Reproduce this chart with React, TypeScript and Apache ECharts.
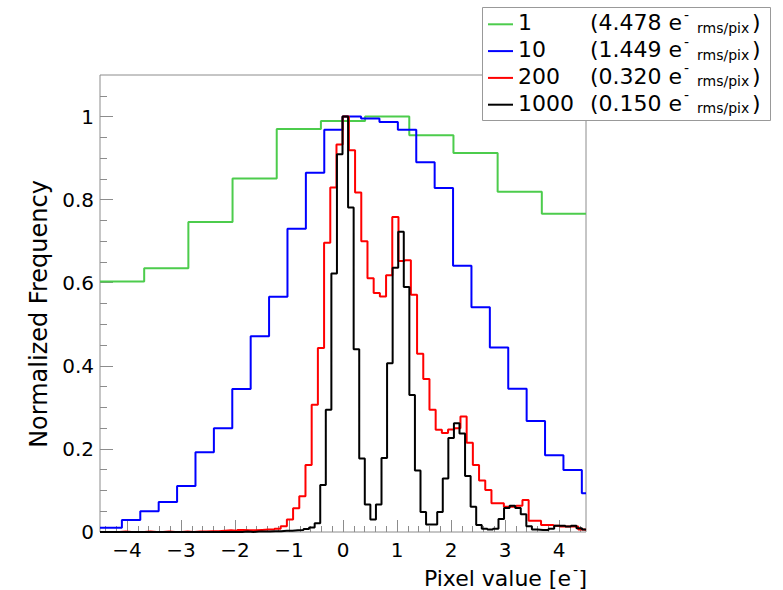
import React, { useEffect, useRef } from 'react';
import * as echarts from 'echarts';

// ---------- axis data ----------
const xRange = [-4.5, 4.5];
const yRange = [0, 1.1];
const xTickValues = [-4, -3, -2, -1, 0, 1, 2, 3, 4];
const yTickValues = [0, 0.2, 0.4, 0.6, 0.8, 1];
const xTitle = 'Pixel value [e';
const yTitle = 'Normalized Frequency';

// ---------- legend data ----------
const seriesSamples = ['1', '10', '200', '1000'];
const seriesNoise = ['4.478', '1.449', '0.320', '0.150'];
const seriesColors = ['#4ccc4c', '#0000ff', '#ff0000', '#000000'];

// ---------- histogram data ----------
// 1 sample
const greenFirstEdge = -4.5;
const greenBinWidth = 0.81818;
const greenValues = [0.603, 0.635, 0.746, 0.851, 0.97, 0.989, 1.0, 0.955, 0.912, 0.819, 0.766];

// 10 samples
const blueFirstEdge = -4.776;
const blueBinWidth = 0.3407;
const blueValues = [
  0.01, 0.01, 0.029, 0.05, 0.072, 0.111, 0.192, 0.25, 0.344, 0.471, 0.566, 0.73, 0.865, 0.968,
  1.0, 0.995, 0.987, 0.968, 0.89, 0.828, 0.641, 0.541, 0.444, 0.345, 0.267, 0.185, 0.149, 0.093,
];

// 200 samples
const redFirstEdge = -4.598;
const redBinWidth = 0.1148;
const redValues = [
  0, 0, 0, 0, 0.001, 0, 0, 0, 0.001, 0, 0, 0.001, 0, 0, 0.001, 0, 0.001, 0.001, 0.002, 0.002,
  0.003, 0.004, 0.003, 0.005, 0.004, 0.004, 0.005, 0.006, 0.006, 0.008,
  0.014, 0.03, 0.057, 0.086, 0.161, 0.306, 0.443, 0.696, 0.829, 0.933,
  1.0, 0.919, 0.817, 0.7, 0.611, 0.575, 0.567, 0.618, 0.758, 0.652,
  0.654, 0.571, 0.429, 0.368, 0.294, 0.246, 0.238, 0.247, 0.25, 0.278,
  0.215, 0.161, 0.124, 0.101, 0.069, 0.069, 0.061, 0.061, 0.063, 0.077,
  0.027, 0.027, 0.017, 0.017, 0.015, 0.013, 0.013, 0.013, 0.006, 0.005,
];

// 1000 samples
const blackFirstEdge = -4.5476;
const blackBinWidth = 0.10315;
const blackValues = [
  0, 0, 0, 0, 0, 0, 0, 0, 0, 0, 0, 0, 0, 0, 0, 0, 0, 0, 0, 0,
  0, 0, 0, 0, 0, 0, 0.001, 0, 0.001, 0.001, 0.001, 0.002,
  0.002, 0.003, 0.003, 0.004, 0.005, 0.007, 0.011, 0.021, 0.113, 0.294, 0.622, 0.909,
  1.0, 0.781, 0.44, 0.177, 0.066, 0.03, 0.066, 0.178, 0.406, 0.636,
  0.723, 0.59, 0.33, 0.148, 0.048, 0.018, 0.018, 0.048, 0.129, 0.226,
  0.262, 0.237, 0.135, 0.061, 0.017, 0.008, 0.006, 0.008, 0.031, 0.058,
  0.063, 0.058, 0.043, 0.014, 0.006, 0.005, 0.005, 0.008, 0.015, 0.015,
  0.013, 0.015, 0.009, 0.006,
];

const histograms = [
  { first: greenFirstEdge, width: greenBinWidth, values: greenValues },
  { first: blueFirstEdge, width: blueBinWidth, values: blueValues },
  { first: redFirstEdge, width: redBinWidth, values: redValues },
  { first: blackFirstEdge, width: blackBinWidth, values: blackValues },
];

function stepPoints(first: number, width: number, values: number[]) {
  const pts: number[][] = [];
  values.forEach((v, i) => {
    const lo = Math.max(first + i * width, xRange[0]);
    const hi = Math.min(first + (i + 1) * width, xRange[1]);
    if (hi <= lo) return;
    pts.push([lo, v], [hi, v]);
  });
  return pts;
}

const FONT = 'DejaVu Sans';
const FRAME = '#8c8c8c';

export default function App() {
  const ref = useRef<HTMLDivElement>(null);
  useEffect(() => {
    if (!ref.current) return;
    const chart = echarts.init(ref.current, undefined, { renderer: 'svg' });

    const xMinor: number[] = [];
    for (let i = Math.ceil(xRange[0] / 0.2); i <= Math.floor(xRange[1] / 0.2); i++) {
      if (i % 5 !== 0) xMinor.push(Math.round(i * 0.2 * 1000) / 1000);
    }
    const yMinor: number[] = [];
    for (let i = 1; i * 0.05 < yRange[1] - 1e-9; i++) {
      if (i % 4 !== 0) yMinor.push(Math.round(i * 0.05 * 1000) / 1000);
    }

    const fmtX = (v: number) => (v < 0 ? '\u2212' + String(-v) : String(v));

    const legendEls: any[] = [
      {
        type: 'rect', z: 100,
        shape: { x: 482.5, y: 7.5, width: 288, height: 113 },
        style: { fill: '#ffffff', stroke: '#999999', lineWidth: 1 },
      },
    ];
    seriesSamples.forEach((name, i) => {
      const cy = 22.8 + 26.8 * i;
      legendEls.push(
        { type: 'line', z: 101, shape: { x1: 488, y1: cy + 1.5, x2: 513, y2: cy + 1.5 }, style: { stroke: seriesColors[i], lineWidth: 2 } },
        { type: 'text', z: 101, x: 518, y: cy, style: { text: name, fontSize: 22, fontFamily: FONT, fill: '#000', align: 'left', verticalAlign: 'middle' } },
        { type: 'text', z: 101, x: 590, y: cy, style: { text: '(' + seriesNoise[i] + ' e', fontSize: 22, fontFamily: FONT, fill: '#000', align: 'left', verticalAlign: 'middle' } },
        { type: 'text', z: 101, x: 684, y: cy - 8, style: { text: '-', fontSize: 14, fontFamily: FONT, fill: '#000', align: 'left', verticalAlign: 'middle' } },
        { type: 'text', z: 101, x: 697, y: cy + 5, style: { text: 'rms/pix', fontSize: 14, fontFamily: FONT, fill: '#000', align: 'left', verticalAlign: 'middle' } },
        { type: 'text', z: 101, x: 752, y: cy, style: { text: ')', fontSize: 22, fontFamily: FONT, fill: '#000', align: 'left', verticalAlign: 'middle' } },
      );
    });

    const titleEls: any[] = [
      { type: 'text', z: 50, x: 571, y: 578, style: { text: xTitle, fontSize: 22, fontFamily: FONT, fill: '#000', align: 'right', verticalAlign: 'middle' } },
      { type: 'text', z: 50, x: 573, y: 570, style: { text: '-', fontSize: 14, fontFamily: FONT, fill: '#000', align: 'left', verticalAlign: 'middle' } },
      { type: 'text', z: 50, x: 587, y: 578, style: { text: ']', fontSize: 22, fontFamily: FONT, fill: '#000', align: 'right', verticalAlign: 'middle' } },
      { type: 'text', z: 50, x: 39, y: 314, rotation: Math.PI / 2, style: { text: yTitle, fontSize: 24, fontFamily: FONT, fill: '#000', align: 'center', verticalAlign: 'middle' } },
    ];

    const tickLabel = { fontSize: 20, fontFamily: FONT, color: '#000' };
    const noLine = { show: false, onZero: false };

    chart.setOption({
      animation: false,
      backgroundColor: '#ffffff',
      grid: { left: 100, top: 75, width: 486, height: 457, show: true, borderColor: FRAME, borderWidth: 1, backgroundColor: 'transparent' },
      xAxis: [
        {
          type: 'value', min: xRange[0], max: xRange[1], position: 'bottom',
          axisLine: noLine, splitLine: { show: false },
          axisTick: { show: true, inside: true, length: 12, customValues: xTickValues, lineStyle: { color: FRAME, width: 1 } },
          axisLabel: { show: true, customValues: xTickValues, formatter: fmtX, margin: 8, ...tickLabel },
        },
        {
          type: 'value', min: xRange[0], max: xRange[1], position: 'bottom',
          axisLine: noLine, splitLine: { show: false }, axisLabel: { show: false },
          axisTick: { show: true, inside: true, length: 6, customValues: xMinor, lineStyle: { color: FRAME, width: 1 } },
        },
      ],
      yAxis: [
        {
          type: 'value', min: yRange[0], max: yRange[1], position: 'left',
          axisLine: noLine, splitLine: { show: false },
          axisTick: { show: true, inside: true, length: 13, customValues: yTickValues, lineStyle: { color: FRAME, width: 1 } },
          axisLabel: { show: true, customValues: yTickValues, formatter: (v: number) => String(v), margin: 6, ...tickLabel },
        },
        {
          type: 'value', min: yRange[0], max: yRange[1], position: 'left',
          axisLine: noLine, splitLine: { show: false }, axisLabel: { show: false },
          axisTick: { show: true, inside: true, length: 7, customValues: yMinor, lineStyle: { color: FRAME, width: 1 } },
        },
      ],
      series: histograms.map((h, i) => ({
        name: seriesSamples[i],
        type: 'line',
        xAxisIndex: 0,
        yAxisIndex: 0,
        data: stepPoints(h.first, h.width, h.values),
        showSymbol: false,
        symbol: 'none',
        clip: true,
        z: 2 + i,
        lineStyle: { color: seriesColors[i], width: 2 },
        emphasis: { disabled: true },
      })),
      graphic: { elements: [...titleEls, ...legendEls] },
    });

    return () => chart.dispose();
  }, []);

  return <div ref={ref} style={{ position: 'absolute', left: 0, top: 0, width: 783, height: 590 }} />;
}
